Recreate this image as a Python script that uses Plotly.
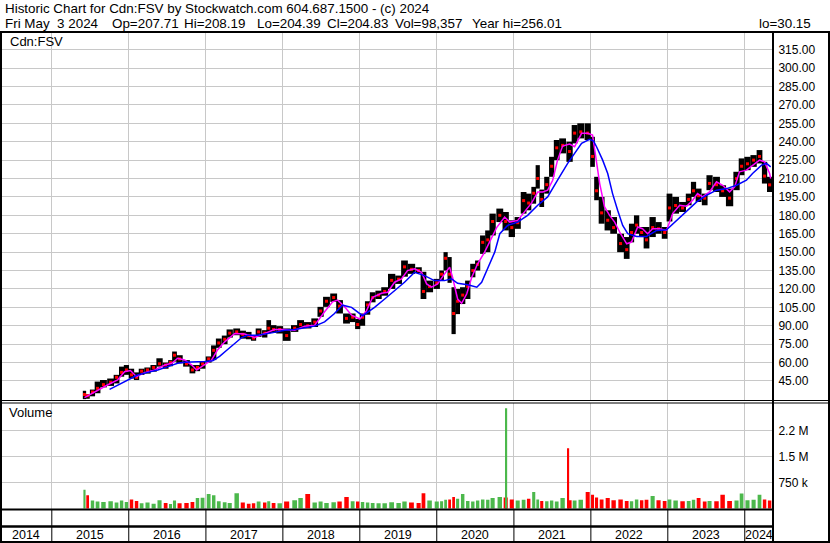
import plotly.graph_objects as go
import pandas as pd

W, H = 830, 543

# ---------------- data ----------------
seg_dates = [
    "2015-06-05", "2015-06-20", "2015-07-13", "2015-08-06", "2015-09-03", "2015-10-07", "2015-11-04", "2015-11-28", "2015-12-21",
    "2016-01-14", "2016-02-07", "2016-03-02", "2016-03-30", "2016-04-28", "2016-05-26", "2016-06-24", "2016-07-17", "2016-08-05", "2016-08-29", "2016-10-01", "2016-10-29", "2016-11-22", "2016-12-16",
    "2017-01-14", "2017-02-07", "2017-03-03", "2017-03-31", "2017-04-24", "2017-05-27", "2017-06-25", "2017-07-23", "2017-08-15", "2017-09-08", "2017-10-07", "2017-10-26", "2017-11-18", "2017-12-17",
    "2018-01-19", "2018-02-26", "2018-03-26", "2018-04-29", "2018-06-01", "2018-06-29", "2018-07-27", "2018-08-30", "2018-09-27", "2018-10-30", "2018-11-28", "2018-12-22",
    "2019-01-14", "2019-02-07", "2019-03-03", "2019-03-31", "2019-04-29", "2019-06-01", "2019-07-04", "2019-08-01", "2019-09-03", "2019-10-07", "2019-10-30", "2019-11-28", "2020-01-01",
    "2020-01-24", "2020-02-12", "2020-03-02", "2020-03-21", "2020-04-09", "2020-05-03", "2020-05-27", "2020-06-20", "2020-07-13", "2020-08-06", "2020-08-30", "2020-09-22", "2020-10-26", "2020-11-23",
    "2020-12-22", "2021-01-19", "2021-02-16", "2021-03-12", "2021-04-05", "2021-04-24", "2021-05-13", "2021-06-06", "2021-06-29", "2021-07-23", "2021-08-20", "2021-09-22", "2021-10-16", "2021-11-14", "2021-12-17",
    "2022-01-09", "2022-01-28", "2022-02-21", "2022-03-22", "2022-04-19", "2022-05-22", "2022-06-20", "2022-07-13", "2022-08-06", "2022-08-30", "2022-09-22", "2022-10-21", "2022-11-18", "2022-12-17",
    "2023-01-09", "2023-02-07", "2023-03-12", "2023-04-10", "2023-05-03", "2023-05-27", "2023-06-25", "2023-07-18", "2023-08-20", "2023-09-18", "2023-10-21", "2023-11-23", "2023-12-17",
    "2024-01-14", "2024-02-12", "2024-03-11", "2024-04-04", "2024-04-28",
]
seg_high = [
    37, 34, 38, 44.5, 45.8, 47, 50, 56.7, 58,
    55, 52, 55, 56, 58, 63.5, 60, 62, 69, 66, 62, 58, 58, 61,
    65, 74, 79.6, 82, 87, 87.8, 86, 85, 82.3, 87.8, 86.4, 94.6, 90.5, 89.7,
    87.8, 90.5, 94.6, 93, 96, 105.4, 113.6, 116.3, 110.9, 100, 100, 95.5,
    100, 110, 117.3, 118.6, 121.4, 132.3, 130.9, 143.2, 140.5, 137.7, 134, 126.8, 128.2,
    135, 150, 146, 121.4, 120, 121.4, 126.8, 140.5, 143.2, 163.6, 167.7, 181.4, 185.5, 182.7,
    175.9, 178.6, 199, 197.7, 203.2, 220.9, 201, 211.4, 227.7, 241.4, 242.7, 240, 253.6, 255, 255,
    244, 211.4, 195, 184.1, 178.6, 165, 162.3, 173.2, 180, 170.5, 170.5, 178.6, 174.5, 170.5,
    197.7, 195, 190.9, 197.7, 207.3, 201.8, 197.7, 212.7, 211.4, 204.5, 201.8, 215.5, 226.4,
    227.7, 229.1, 233.2, 223.6, 211.4,
]
seg_low = [
    30.2, 30.5, 32.5, 35, 39.8, 41, 43, 48.5, 50,
    47, 45.8, 50, 51, 52.6, 56.7, 55, 57, 60.8, 59.4, 56.7, 51.2, 53, 55,
    60, 62, 72, 75, 80.4, 82.3, 79.5, 79, 77.8, 81, 80.4, 84, 84.2, 83.7,
    77.7, 85, 87.8, 87.8, 89, 97.3, 105.4, 109.5, 100, 91.8, 93, 87.3,
    90, 99, 109.1, 111.8, 114.5, 120, 124.1, 130, 132.3, 133, 111.8, 117.3, 120,
    126.8, 135, 125, 83.2, 99.5, 107.7, 111.8, 129.5, 135, 148.6, 150, 163.6, 174.5, 167.7,
    162.3, 169, 181.4, 184.1, 189.5, 201.8, 186.8, 197.7, 211.4, 225, 230.5, 223.6, 238.6, 242.7, 241.4,
    219.5, 192.3, 173.2, 167.7, 165, 150, 144.5, 158, 165, 162.3, 153, 162.3, 165, 160.9,
    175, 181.4, 182.7, 188.2, 195, 190.9, 188.2, 200.5, 199, 195, 187.4, 200.5, 212.7,
    216.8, 219.5, 222.3, 205.9, 199,
]
seg_close = [
    34, 33, 36, 39, 42, 44, 48, 52, 54,
    50, 48, 53, 54, 56, 59, 58, 60, 66, 63, 59, 54, 56, 59,
    63, 70, 76, 79, 84, 85, 83, 82, 80, 85, 84, 88, 87, 87,
    82, 88, 91, 90, 93, 102, 110, 113, 106, 96, 97, 91,
    97, 107, 113, 115, 118, 127, 128, 138, 136, 135, 118, 122, 125,
    132, 145, 132, 100, 110, 115, 122, 135, 140, 158, 160, 175, 180, 175,
    170, 174, 192, 190, 198, 210, 193, 205, 220, 235, 237, 232, 247, 248, 247,
    228, 200, 182, 176, 170, 157, 152, 166, 172, 166, 160, 170, 169, 166,
    186, 188, 186, 193, 200, 196, 194, 206, 205, 200, 194, 210, 220,
    222, 225, 228, 212, 204.83,
]
seg_volume = [  # thousands of shares
    540, 380, 230, 200, 190, 210, 170, 230, 190,
    260, 220, 150, 170, 140, 240, 160, 130, 230, 150, 160, 190, 300, 310,
    420, 380, 210, 180, 160, 440, 170, 140, 150, 200, 170, 210, 160, 150,
    200, 240, 300, 420, 170, 200, 160, 180, 200, 330, 210, 200,
    190, 170, 160, 150, 150, 180, 160, 200, 170, 160, 440, 230, 200,
    210, 250, 260, 330, 280, 420, 220, 200, 230, 260, 250, 300, 330, 320,
    260, 230, 250, 280, 480, 260, 220, 210, 230, 200, 300, 240, 230, 250, 480,
    400, 320, 260, 300, 240, 260, 220, 210, 260, 240, 250, 360, 240, 220,
    260, 230, 210, 220, 250, 300, 200, 220, 210, 400, 220, 230, 430,
    240, 250, 400, 260, 230,
]
spike_dates = ["2020-11-27", "2021-09-17"]
spike_volume = [2900, 1740]          # thousands
spike_up = [True, False]

ma_short_dates = [
    "2015-06-05", "2015-07-23", "2015-09-22", "2015-11-09", "2015-12-12", "2016-01-09", "2016-02-07", "2016-03-16", "2016-05-03", "2016-06-20",
    "2016-07-23", "2016-08-20", "2016-09-22", "2016-10-26", "2016-11-18", "2016-12-12", "2017-01-28", "2017-02-26", "2017-03-31", "2017-05-18",
    "2017-07-04", "2017-08-20", "2017-10-07", "2017-11-23", "2018-01-09", "2018-02-26", "2018-04-14", "2018-06-01", "2018-07-18", "2018-08-25",
    "2018-09-18", "2018-10-21", "2018-11-23", "2019-01-01", "2019-02-02", "2019-03-03", "2019-04-14", "2019-05-13", "2019-06-15", "2019-07-18",
    "2019-08-15", "2019-09-18", "2019-10-21", "2019-11-14", "2019-12-07", "2020-01-05", "2020-02-07", "2020-03-02", "2020-03-16", "2020-04-09",
    "2020-04-28", "2020-05-22", "2020-06-15", "2020-07-13", "2020-08-15", "2020-09-18", "2020-10-11", "2020-11-18", "2020-12-12", "2021-01-19",
    "2021-02-21", "2021-03-26", "2021-04-24", "2021-05-18", "2021-06-10", "2021-07-04", "2021-07-27", "2021-08-20", "2021-09-22", "2021-10-16",
    "2021-11-18", "2021-12-17", "2022-01-09", "2022-01-28", "2022-02-12", "2022-03-07", "2022-03-31", "2022-04-24", "2022-05-22", "2022-06-20",
    "2022-07-13", "2022-08-11", "2022-09-03", "2022-09-27", "2022-10-21", "2022-11-23", "2022-12-26", "2023-01-24", "2023-02-26", "2023-03-31",
    "2023-04-29", "2023-05-22", "2023-06-15", "2023-07-18", "2023-08-20", "2023-09-18", "2023-10-21", "2023-11-14", "2023-12-07", "2024-01-09",
    "2024-02-07", "2024-03-11", "2024-04-04", "2024-04-28", "2024-05-03",
]
ma_short_values = [
    31.5, 36.3, 41.7, 45.8, 52.6, 53.5, 48.5, 51.8, 54, 58,
    59.4, 63.5, 62.1, 58, 54, 56.7, 62.1, 70.5, 76.9, 83.7,
    83.2, 80.4, 83.7, 87, 87, 86.4, 89.7, 90.5, 101.4, 109.5,
    110.9, 105.4, 98.6, 95.5, 102.3, 113.2, 116.5, 117.3, 125.5, 128.2,
    135, 136.4, 133.6, 124.1, 121.4, 124.1, 132.3, 137.7, 129.5, 111.8,
    108.3, 115.9, 129.5, 140.5, 150, 162.3, 170, 178.6, 174.5, 175.9,
    182.7, 190.1, 199.1, 199.1, 200.5, 208.6, 225, 236.5, 238.1, 235.9,
    246.8, 246.8, 245.5, 225, 205.9, 186.8, 180, 174.5, 165, 156.8,
    158.2, 170.5, 169.1, 165, 169.1, 169.1, 167.7, 181.4, 188.2, 187.4,
    192.3, 197.7, 195, 199.1, 207.3, 204.5, 199.1, 203.2, 215.5, 216.8,
    220.9, 225, 223.6, 214.1, 210,
]
ma_long_dates = [
    "2015-10-02", "2015-11-09", "2015-12-26", "2016-02-12", "2016-03-31", "2016-05-18", "2016-07-04", "2016-08-20", "2016-09-22", "2016-11-09",
    "2016-12-26", "2017-02-02", "2017-03-07", "2017-04-14", "2017-05-18", "2017-06-20", "2017-07-18", "2017-09-03", "2017-11-09", "2018-01-09",
    "2018-02-26", "2018-04-14", "2018-06-01", "2018-07-18", "2018-09-03", "2018-10-11", "2018-11-23", "2019-01-14", "2019-03-12", "2019-04-29",
    "2019-06-15", "2019-08-01", "2019-09-18", "2019-11-04", "2019-12-21", "2020-02-07", "2020-03-11", "2020-04-09", "2020-05-27", "2020-07-09",
    "2020-08-01", "2020-08-30", "2020-10-02", "2020-10-26", "2020-12-02", "2021-01-19", "2021-03-07", "2021-04-24", "2021-06-10", "2021-07-27",
    "2021-09-13", "2021-10-16", "2021-11-18", "2021-12-26", "2022-01-14", "2022-01-28", "2022-02-26", "2022-03-22", "2022-04-14", "2022-05-08",
    "2022-06-01", "2022-06-25", "2022-08-06", "2022-09-22", "2022-11-09", "2022-12-26", "2023-02-12", "2023-03-31", "2023-05-18", "2023-07-04",
    "2023-08-20", "2023-10-07", "2023-11-23", "2024-01-09", "2024-02-07", "2024-03-21", "2024-04-13", "2024-05-03",
]
ma_long_values = [
    38.2, 41.7, 45.8, 49.9, 52, 54, 56.7, 59.4, 60.3, 60.5,
    60.8, 61.5, 65, 70.7, 75.5, 80.4, 82.3, 82.3, 84.2, 86.4,
    87, 88.6, 89.7, 93.2, 100, 106.8, 105, 98.2, 105, 111.8,
    118.6, 125.5, 133.6, 130.9, 126.8, 126.8, 128.2, 124.6, 123.5, 121.4,
    125.5, 136.4, 150, 165, 171.8, 174.5, 180, 188.2, 195, 208.6,
    222.3, 230.5, 238.6, 241.9, 240.5, 235.9, 225, 214.1, 197.7, 184.1,
    171.8, 165, 162.8, 162.8, 167.7, 168.3, 175.9, 184.1, 190.9, 196.4,
    200.5, 201.8, 204.5, 208.6, 214.1, 220.9, 222.3, 219.5,
]

price_ticks = [45, 60, 75, 90, 105, 120, 135, 150, 165, 180, 195, 210, 225, 240, 255, 270, 285, 300, 315]
vol_ticks = [750000, 1500000, 2250000]
vol_tick_labels = ["750 k", "1.5 M", "2.2 M"]
year_starts = ["2015-01-01", "2016-01-01", "2017-01-01", "2018-01-01", "2019-01-01",
               "2020-01-01", "2021-01-01", "2022-01-01", "2023-01-01", "2024-01-01"]
year_labels = ["2014", "2015", "2016", "2017", "2018", "2019", "2020", "2021", "2022", "2023", "2024"]
year_label_dates = ["2014-09-02", "2015-07-02", "2016-07-02", "2017-07-02", "2018-07-02", "2019-07-02",
                    "2020-07-02", "2021-07-02", "2022-07-02", "2023-07-02", "2024-03-08"]

header_line1 = "Historic Chart for Cdn:FSV by Stockwatch.com 604.687.1500 - (c) 2024"
header_fields = ["Fri May\u00a0\u00a03 2024", "Op=207.71", "Hi=208.19", "Lo=204.39", "Cl=204.83",
                 "Vol=98,357", "Year hi=256.01", "lo=30.15"]
header_field_px = [3, 110, 182, 255, 325, 393, 470, 757]
symbol_label = "Cdn:FSV"

# ---------------- build ----------------
X_RANGE = ["2014-05-05", "2024-05-14"]
GRID = "#c8c8c8"
GREEN = "#4cb84c"
RED = "#ff0000"
FONT = "Liberation Sans, Arial, sans-serif"


def fx(px):
    return px / W


def fy(py):
    return 1 - py / H


d = pd.to_datetime(pd.Series(seg_dates))
gaps = d.diff().dt.total_seconds() * 1000
gap_prev = gaps.bfill()
gap_next = gaps.shift(-1).ffill()
seg_width = ((gap_prev + gap_next) / 2 * 1.05).tolist()
vol_width = [w * 0.65 for w in seg_width]
vol_colors = [GREEN] + [GREEN if seg_close[i] >= seg_close[i - 1] else RED for i in range(1, len(seg_close))]

fig = go.Figure()

# price range bars
fig.add_trace(go.Bar(
    x=seg_dates, y=[h - l for h, l in zip(seg_high, seg_low)], base=seg_low,
    width=seg_width, marker=dict(color="#000000", line=dict(width=0)),
    xaxis="x", yaxis="y", hoverinfo="skip"))
# close ticks
fig.add_trace(go.Scatter(
    x=seg_dates, y=seg_close, mode="markers",
    marker=dict(symbol="square", size=3, color=RED, line=dict(width=0)),
    xaxis="x", yaxis="y", hoverinfo="skip"))
# moving averages
fig.add_trace(go.Scatter(x=ma_short_dates, y=ma_short_values, mode="lines",
                         line=dict(color="#ff00ff", width=1.5), xaxis="x", yaxis="y", hoverinfo="skip"))
fig.add_trace(go.Scatter(x=ma_long_dates, y=ma_long_values, mode="lines",
                         line=dict(color="#0000ff", width=1.5), xaxis="x", yaxis="y", hoverinfo="skip"))

# volume
fig.add_trace(go.Bar(
    x=seg_dates, y=[v * 1000 for v in seg_volume], width=vol_width,
    marker=dict(color=vol_colors, line=dict(width=0)), xaxis="x2", yaxis="y2", hoverinfo="skip"))
fig.add_trace(go.Bar(
    x=spike_dates, y=[v * 1000 for v in spike_volume], width=[6 * 86400000] * len(spike_dates),
    marker=dict(color=[GREEN if u else RED for u in spike_up], line=dict(width=0)),
    xaxis="x2", yaxis="y2", hoverinfo="skip"))

x_common = dict(range=X_RANGE, type="date", domain=[fx(1), fx(773)], tickvals=year_starts,
                showgrid=True, gridcolor=GRID, gridwidth=1, showticklabels=False, ticks="",
                zeroline=False, showline=False, fixedrange=True)

fig.update_layout(
    width=W, height=H,
    margin=dict(l=0, r=0, t=0, b=0),
    paper_bgcolor="white", plot_bgcolor="white",
    showlegend=False, barmode="overlay",
    font=dict(family=FONT, size=12, color="#000000"),
    xaxis=dict(anchor="y", **x_common),
    xaxis2=dict(anchor="y2", matches="x", **x_common),
    yaxis=dict(domain=[fy(400), fy(33)], range=[29.5, 328.6], side="right",
               tickvals=price_ticks, ticktext=[f"{v:.2f}" for v in price_ticks],
               showgrid=True, gridcolor=GRID, gridwidth=1, zeroline=False,
               ticks="outside", ticklen=2, tickcolor="rgba(0,0,0,0)",
               tickfont=dict(family=FONT, size=12, color="#000000"), fixedrange=True),
    yaxis2=dict(domain=[fy(509.5), fy(403)], range=[-29000, 3050000], side="right",
                tickvals=vol_ticks, ticktext=vol_tick_labels,
                showgrid=True, gridcolor=GRID, gridwidth=1, zeroline=False,
                ticks="outside", ticklen=2, tickcolor="rgba(0,0,0,0)",
                tickfont=dict(family=FONT, size=12, color="#000000"), fixedrange=True),
)

shapes = []


def hline(py, x0, x1, w):
    shapes.append(dict(type="line", xref="paper", yref="paper", x0=fx(x0), x1=fx(x1),
                       y0=fy(py), y1=fy(py), line=dict(color="#000000", width=w), layer="above"))


def vline(px, y0, y1, w):
    shapes.append(dict(type="line", xref="paper", yref="paper", x0=fx(px), x1=fx(px),
                       y0=fy(y0), y1=fy(y1), line=dict(color="#000000", width=w), layer="above"))


hline(32, 0, 830, 2)
hline(400.5, 0, 830, 1)
hline(403, 0, 830, 1)
hline(509.5, 0, 773, 2)
hline(526.5, 0, 773, 2.5)
hline(542, 0, 830, 2)
vline(1, 31, 543, 2)
vline(773, 31, 543, 2)
vline(829, 31, 543, 2)
for ys in year_starts:
    shapes.append(dict(type="line", xref="x", yref="paper", x0=ys, x1=ys,
                       y0=fy(510), y1=fy(541), line=dict(color="#000000", width=1), layer="above"))

annotations = []
annotations.append(dict(text=header_line1, xref="paper", yref="paper", x=fx(3), y=fy(8.5),
                        xanchor="left", yanchor="middle", showarrow=False,
                        font=dict(family=FONT, size=13.4, color="#000000")))
for t, px in zip(header_fields, header_field_px):
    annotations.append(dict(text=t, xref="paper", yref="paper", x=fx(px), y=fy(23),
                            xanchor="left", yanchor="middle", showarrow=False,
                            font=dict(family=FONT, size=13.4, color="#000000")))
annotations.append(dict(text=symbol_label, xref="paper", yref="paper", x=fx(8), y=fy(41.5),
                        xanchor="left", yanchor="middle", showarrow=False,
                        font=dict(family=FONT, size=13, color="#000000")))
annotations.append(dict(text="Volume", xref="paper", yref="paper", x=fx(7), y=fy(413),
                        xanchor="left", yanchor="middle", showarrow=False,
                        font=dict(family=FONT, size=13, color="#000000")))
for lab, dt in zip(year_labels, year_label_dates):
    annotations.append(dict(text=lab, xref="x", yref="paper", x=dt, y=fy(534.5),
                            xanchor="center", yanchor="middle", showarrow=False,
                            font=dict(family=FONT, size=12.5, color="#000000")))

fig.update_layout(shapes=shapes, annotations=annotations)
fig.write_html("out.html", config={"displayModeBar": False},
               post_script="document.body.style.margin='0px';document.body.style.overflow='hidden';")
